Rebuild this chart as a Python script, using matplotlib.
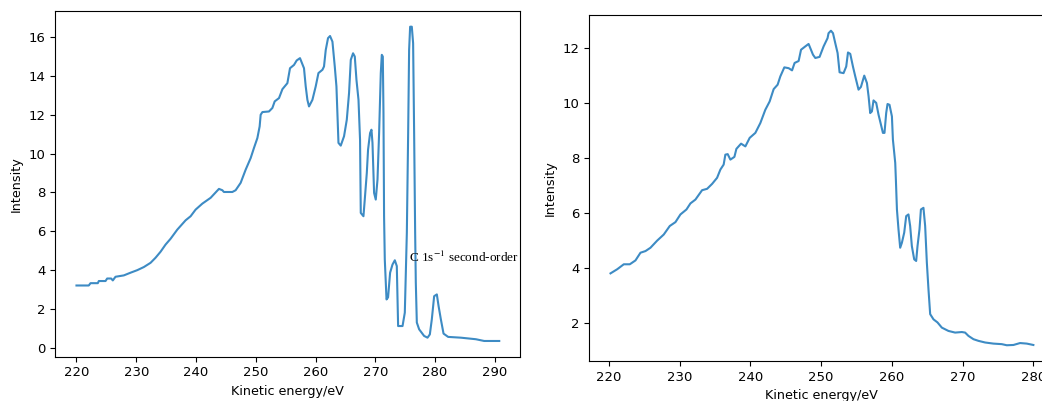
import matplotlib
matplotlib.use("Agg")
import matplotlib.pyplot as plt

# left panel: spectrum with the C 1s second-order feature
left_energy = [
    220.0, 222.06, 222.35, 223.57, 223.74, 224.86, 225.14, 225.81, 226.08, 226.53,
    227.92, 229.05, 230.17, 231.27, 232.40, 233.23, 234.07, 234.91, 235.75, 236.87,
    238.26, 239.10, 239.93, 241.06, 242.45, 243.84, 244.41, 244.67, 246.08, 246.63,
    247.47, 248.31, 249.15, 249.70, 250.27, 250.65, 250.82, 251.11, 252.21, 252.78,
    253.17, 253.89, 254.46, 255.29, 255.73, 256.40, 256.85, 257.40, 258.07, 258.36,
    258.64, 258.91, 259.48, 260.03, 260.49, 261.16, 261.42, 261.71, 262.09, 262.43,
    262.83, 263.22, 263.50, 263.84, 264.22, 264.77, 265.23, 265.61, 265.90, 266.28,
    266.57, 266.85, 267.19, 267.45, 267.57, 268.02, 268.24, 268.58, 268.79, 269.13,
    269.36, 269.53, 269.80, 270.08, 270.37, 270.64, 270.92, 271.09, 271.26, 271.37,
    271.47, 271.59, 271.88, 272.14, 272.48, 272.88, 273.27, 273.60, 273.82, 274.56,
    274.94, 275.28, 275.50, 275.66, 275.83, 276.11, 276.33, 276.50, 276.67, 276.78,
    276.95, 277.34, 278.17, 278.74, 279.13, 279.46, 279.85, 280.30, 280.59, 280.97,
    281.42, 282.19, 284.32, 286.83, 288.22, 290.74,
]
left_intensity = [
    3.20, 3.20, 3.32, 3.32, 3.43, 3.43, 3.56, 3.56, 3.46, 3.65,
    3.72, 3.86, 3.99, 4.15, 4.37, 4.63, 4.94, 5.31, 5.61, 6.08,
    6.56, 6.77, 7.11, 7.42, 7.72, 8.18, 8.11, 8.02, 8.02, 8.11,
    8.49, 9.17, 9.77, 10.29, 10.80, 11.40, 12.00, 12.14, 12.17, 12.35,
    12.69, 12.86, 13.32, 13.63, 14.40, 14.57, 14.80, 14.92, 14.40, 13.46,
    12.77, 12.43, 12.77, 13.46, 14.15, 14.32, 14.49, 15.34, 15.95, 16.06,
    15.77, 14.49, 13.46, 10.55, 10.41, 10.89, 11.74, 13.12, 14.83, 15.17,
    15.00, 13.80, 12.77, 10.71, 6.94, 6.77, 7.63, 9.00, 10.20, 11.06,
    11.23, 10.55, 7.97, 7.63, 8.66, 11.06, 14.15, 15.09, 15.00, 12.09,
    6.77, 4.54, 2.48, 2.59, 3.86, 4.28, 4.50, 4.20, 1.11, 1.11,
    1.80, 5.92, 11.06, 15.34, 16.54, 16.54, 15.69, 11.07, 5.92, 3.35,
    1.29, 0.94, 0.60, 0.51, 0.68, 1.46, 2.65, 2.74, 2.14, 1.46,
    0.72, 0.55, 0.51, 0.43, 0.34, 0.34,
]

# right panel
right_energy = [
    220.21, 221.16, 222.09, 222.94, 223.74, 224.45, 225.16, 225.86, 226.81, 227.74,
    228.59, 229.39, 230.10, 230.95, 231.51, 232.22, 233.16, 233.87, 234.58, 235.28,
    235.75, 236.21, 236.45, 236.78, 237.16, 237.73, 238.01, 238.67, 239.28, 239.89,
    240.69, 241.40, 242.10, 242.71, 243.28, 243.84, 244.22, 244.79, 245.40, 245.88,
    246.24, 246.81, 247.15, 247.75, 248.22, 248.84, 249.17, 249.77, 250.34, 250.90,
    251.04, 251.38, 251.67, 251.99, 252.32, 252.60, 253.16, 253.54, 253.79, 254.11,
    254.49, 254.82, 255.28, 255.62, 256.09, 256.47, 256.70, 256.93, 257.17, 257.40,
    257.78, 258.11, 258.45, 258.73, 258.95, 259.19, 259.38, 259.66, 260.00, 260.14,
    260.47, 260.56, 260.71, 260.93, 261.17, 261.41, 261.74, 262.02, 262.34, 262.58,
    262.82, 263.15, 263.43, 263.62, 263.90, 264.10, 264.46, 264.70, 264.94, 265.17,
    265.41, 265.88, 266.44, 267.06, 267.99, 268.94, 269.89, 270.35, 270.82, 271.53,
    272.23, 273.18, 274.35, 275.54, 276.24, 277.18, 278.12, 279.07, 280.00,
]
right_intensity = [
    3.81, 3.96, 4.14, 4.14, 4.28, 4.56, 4.62, 4.74, 5.00, 5.22,
    5.53, 5.67, 5.95, 6.13, 6.35, 6.49, 6.83, 6.88, 7.06, 7.28,
    7.58, 7.76, 8.12, 8.14, 7.94, 8.04, 8.33, 8.52, 8.42, 8.73,
    8.91, 9.27, 9.75, 10.05, 10.50, 10.66, 10.96, 11.29, 11.26, 11.18,
    11.45, 11.52, 11.93, 12.05, 12.14, 11.75, 11.63, 11.67, 12.05, 12.35,
    12.53, 12.62, 12.53, 12.17, 11.81, 11.11, 11.08, 11.32, 11.83, 11.78,
    11.32, 10.96, 10.48, 10.58, 10.99, 10.72, 10.24, 9.63, 9.69, 10.09,
    10.00, 9.57, 9.21, 8.91, 8.91, 9.63, 9.96, 9.93, 9.51, 8.67,
    7.82, 7.22, 6.13, 5.41, 4.74, 4.92, 5.29, 5.89, 5.95, 5.53,
    4.80, 4.32, 4.26, 4.80, 5.41, 6.13, 6.19, 5.53, 4.20, 3.23,
    2.33, 2.14, 2.03, 1.84, 1.72, 1.66, 1.68, 1.66, 1.54, 1.42,
    1.36, 1.30, 1.26, 1.24, 1.20, 1.21, 1.28, 1.26, 1.21,
]

annotation_text = "C 1s$^{-1}$ second-order"
annotation_pos = (275.6, 4.66)

LINE_COLOR = "#3d8bc4"

plt.rcParams["font.size"] = 9.5
plt.rcParams["axes.labelsize"] = 9.2
plt.rcParams["mathtext.fontset"] = "stix"

fig = plt.figure(figsize=(10.42, 4.01), dpi=100)

ax1 = fig.add_axes([0.0531, 0.1105, 0.4463, 0.8621])
ax1.plot(left_energy, left_intensity, color=LINE_COLOR, linewidth=1.5)
ax1.set_xlabel("Kinetic energy/eV")
ax1.set_ylabel("Intensity")
ax1.text(annotation_pos[0], annotation_pos[1], annotation_text,
         family="Liberation Serif", fontsize=9.5, ha="left", va="center")

# the right panel runs slightly past the picture edge, as in the original
ax2 = fig.add_axes([0.5656, 0.0998, 0.4464, 0.8628])
ax2.plot(right_energy, right_intensity, color=LINE_COLOR, linewidth=1.5)
ax2.set_xlabel("Kinetic energy/eV")
ax2.set_ylabel("Intensity")

fig.savefig("out.png", dpi=100)
